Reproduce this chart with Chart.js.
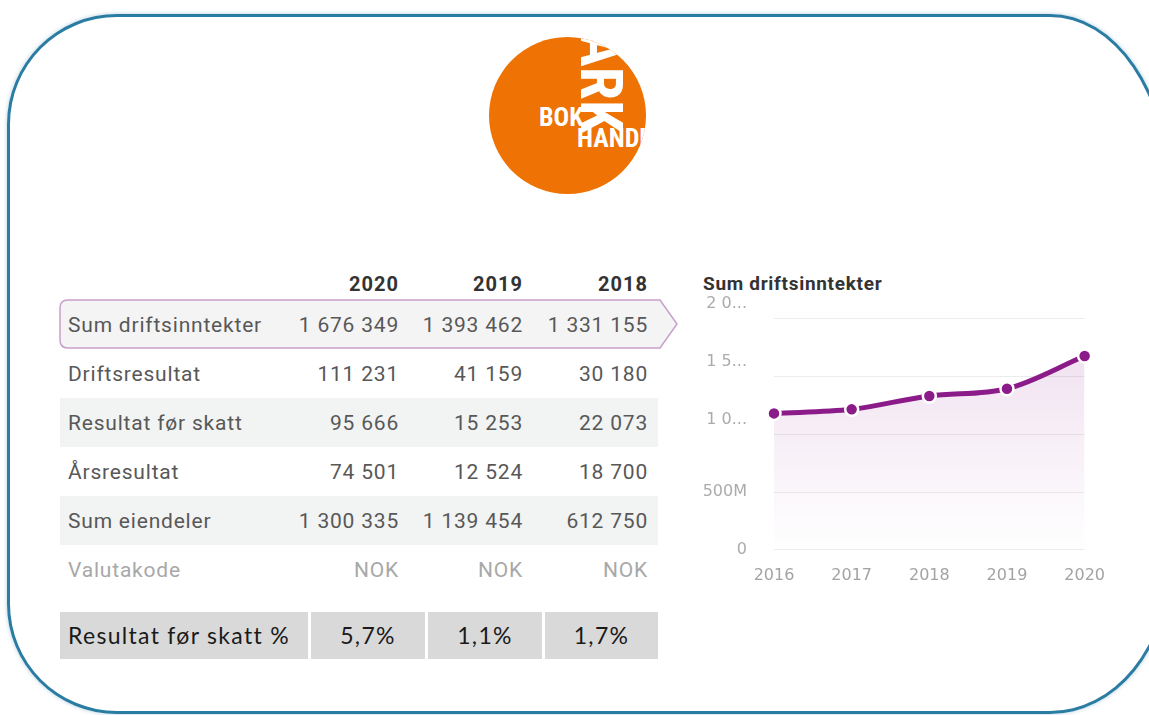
<!DOCTYPE html>
<html>
<head>
<meta charset="utf-8">
<script src="https://cdn.jsdelivr.net/npm/chart.js@4.4.1/dist/chart.umd.min.js"></script>
<style>
  html, body { margin: 0; padding: 0; overflow: hidden; }
  body { background: #fff; font-family: Roboto, sans-serif; }
  #page { width: 1149px; height: 715px; position: relative; overflow: hidden; }
  .card { position: absolute; left: 7px; top: 14px; width: 1163px; height: 700px; box-sizing: border-box;
          border: 3px solid #2b7ca3; border-radius: 110px 120px 120px 110px / 110px 175px 147px 110px;
          box-shadow: 0 0 4px rgba(43,124,163,0.35); }
  .logo { position: absolute; left: 489px; top: 37px; width: 157px; height: 157px; border-radius: 50%;
          background: #ee7204; overflow: hidden; font-family: 'Liberation Sans Narrow', 'Roboto Condensed', sans-serif;
          font-weight: bold; color: #fff; }
  .logo .ark { position: absolute; left: 142px; top: -6px; font-size: 60px; line-height: 1; transform: rotate(90deg); transform-origin: 0 0; white-space: nowrap; }
  .logo .bok { position: absolute; left: 50px; top: 67px; font-size: 26px; line-height: 1; }
  .logo .handel { position: absolute; left: 88px; top: 88px; font-size: 26px; line-height: 1; }
  .tbl { position: absolute; left: 60px; top: 268px; width: 598px; }
  .row { position: relative; height: 49px; display: flex; align-items: center; font-size: 21px; letter-spacing: 0.8px; color: #585858; }
  .row.head { height: 32px; font-weight: bold; color: #333; font-size: 20px; letter-spacing: 1px; }
  .row.alt { background: #f2f3f3; }
  .row .lab { position: absolute; left: 8px; }
  .row .v { position: absolute; text-align: right; width: 140px; }
  .row.muted { color: #a8a8a8; }
  .hl { position: absolute; left: 59px; top: 299px; }
  .pct { position: absolute; left: 60px; top: 612px; height: 47px; font-family: Lato, sans-serif; font-size: 23px; letter-spacing: 1.3px; color: #1a1a1a; }
  .pct div { position: absolute; top: 0; height: 47px; line-height: 47px; background: #d9d9d9; white-space: nowrap; }
  .ctitle { position: absolute; left: 703px; top: 272px; font-size: 19px; letter-spacing: 0.7px; font-weight: bold; color: #333; }
  #wrap { position: absolute; left: 692px; top: 270px; width: 421px; height: 323px; }
</style>
</head>
<body>
<div id="page">
<div class="card"></div>
<div class="logo">
  <div class="ark">ARK</div>
  <div class="bok">BOK</div>
  <div class="handel">HANDEL</div>
</div>
<svg class="hl" width="622" height="52">
  <path d="M9 1 H601 L618 25 L601 49 H9 Q1 49 1 41 V9 Q1 1 9 1 Z" fill="#f4f4f5" stroke="#c99fc8" stroke-width="1.5"/>
</svg>
<div class="tbl" id="tbl"></div>
<div class="pct" id="pct"></div>
<div class="ctitle">Sum driftsinntekter</div>
<div id="wrap"><canvas id="chart"></canvas></div>
</div>
<script>
// table data (thousand NOK)
const tableYears = ['2020', '2019', '2018'];
const rowLabels = ['Sum driftsinntekter', 'Driftsresultat', 'Resultat før skatt', 'Årsresultat', 'Sum eiendeler', 'Valutakode'];
const sumDriftsinntekter = ['1 676 349', '1 393 462', '1 331 155'];
const driftsresultat = ['111 231', '41 159', '30 180'];
const resultatForSkatt = ['95 666', '15 253', '22 073'];
const arsresultat = ['74 501', '12 524', '18 700'];
const sumEiendeler = ['1 300 335', '1 139 454', '612 750'];
const valutakode = ['NOK', 'NOK', 'NOK'];
const pctLabel = 'Resultat før skatt %';
const pctValues = ['5,7%', '1,1%', '1,7%'];

// chart data (NOK)
const years = ['2016', '2017', '2018', '2019', '2020'];
const revenue = [1180000000, 1215000000, 1331155000, 1393462000, 1676349000];
const yTickLabels = ['0', '500M', '1 0...', '1 5...', '2 0...'];

const rowValues = [sumDriftsinntekter, driftsresultat, resultatForSkatt, arsresultat, sumEiendeler, valutakode];
const colRight = [339, 463, 588]; // right edge of each value column, relative to table

const tbl = document.getElementById('tbl');
let html = '<div class="row head">';
tableYears.forEach((y, i) => { html += '<span class="v" style="left:' + (colRight[i] - 140) + 'px">' + y + '</span>'; });
html += '</div>';
rowLabels.forEach((lab, r) => {
    let cls = 'row';
    if (r === 2 || r === 4) cls += ' alt';
    if (r === 5) cls += ' muted';
    html += '<div class="' + cls + '"><span class="lab">' + lab + '</span>';
    rowValues[r].forEach((v, i) => { html += '<span class="v" style="left:' + (colRight[i] - 140) + 'px">' + v + '</span>'; });
    html += '</div>';
});
tbl.innerHTML = html;

const pct = document.getElementById('pct');
const cells = [[0, 248], [251, 114], [368, 114], [485, 113]];
let ph = '<div style="left:0;width:248px;padding-left:8px;box-sizing:border-box">' + pctLabel + '</div>';
pctValues.forEach((v, i) => {
    const c = cells[i + 1];
    ph += '<div style="left:' + c[0] + 'px;width:' + c[1] + 'px;text-align:center">' + v + '</div>';
});
pct.innerHTML = ph;

const purple = '#8c1b8a';

new Chart(document.getElementById('chart'), {
    type: 'line',
    data: {
        labels: years,
        datasets: [{
            data: revenue,
            borderColor: purple,
            borderWidth: 5,
            pointBackgroundColor: purple,
            pointBorderColor: '#fff',
            pointBorderWidth: 2.5,
            pointRadius: 6.5,
            cubicInterpolationMode: 'monotone',
            fill: true,
            backgroundColor: (ctx) => {
                const area = ctx.chart.chartArea;
                if (!area) return 'rgba(140,27,138,0.08)';
                const g = ctx.chart.ctx.createLinearGradient(0, area.top, 0, area.bottom);
                g.addColorStop(0, 'rgba(140,27,138,0.15)');
                g.addColorStop(1, 'rgba(140,27,138,0.0)');
                return g;
            }
        }]
    },
    options: {
        responsive: true,
        maintainAspectRatio: false,
        animation: false,
        layout: { padding: { top: 0, right: 22, bottom: 0, left: 0 } },
        plugins: { legend: { display: false }, tooltip: { enabled: false } },
        scales: {
            x: {
                grid: { display: false },
                border: { display: false },
                ticks: { color: '#a3a3a3', font: { family: 'DejaVu Sans', size: 16 }, padding: 8, maxRotation: 0 }
            },
            y: {
                min: 0,
                max: 2000000000,
                afterFit: (s) => { s.width = 82; },
                grid: { color: '#ececec', drawTicks: false },
                border: { display: false },
                ticks: {
                    stepSize: 500000000,
                    padding: 27,
                    color: '#ababab',
                    font: { family: 'DejaVu Sans', size: 16, lineHeight: 0.9 },
                    // top labels sit a bit above their gridlines in the original
                    callback: (v, i) => i >= 2 ? [yTickLabels[i], '', ''] : yTickLabels[i]
                }
            }
        }
    }
});
</script>
</body>
</html>
